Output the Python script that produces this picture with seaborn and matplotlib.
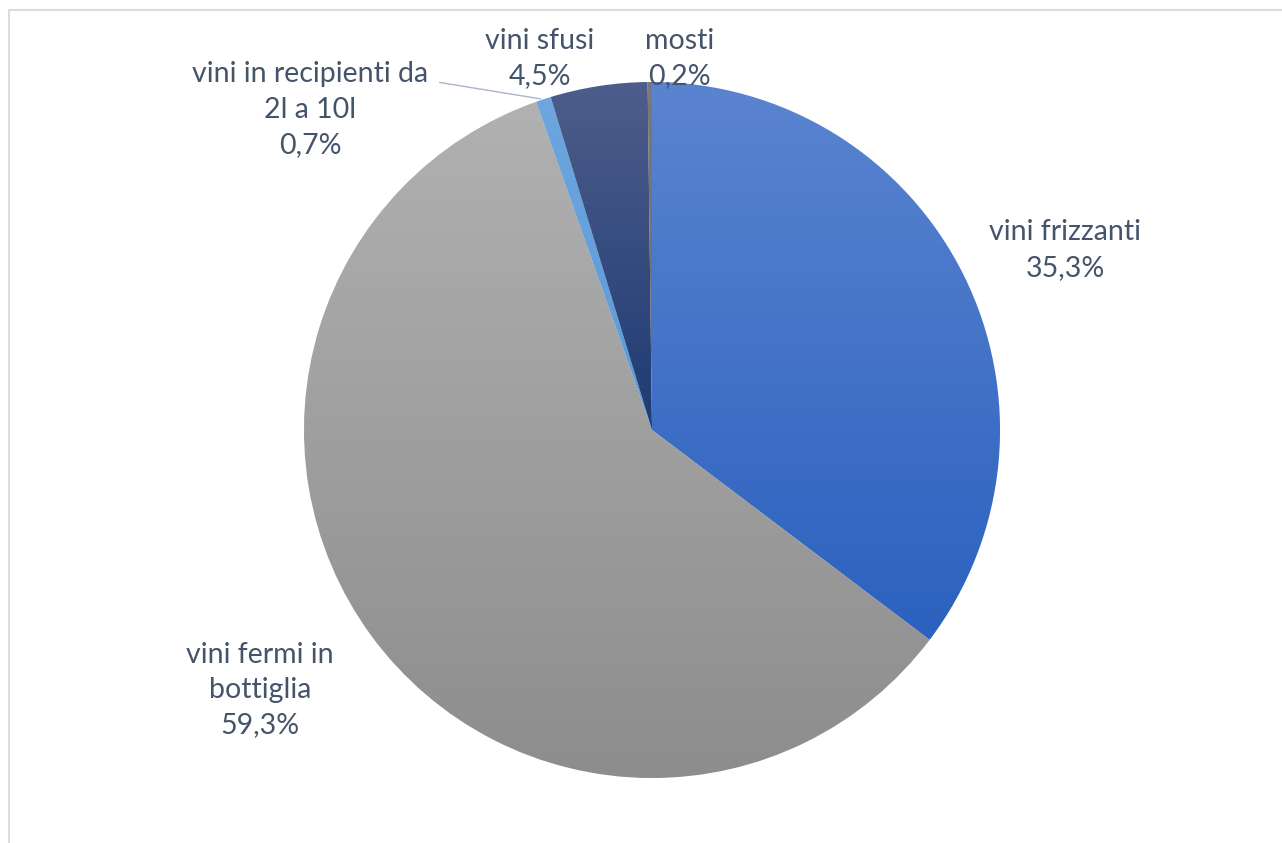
import numpy as np
import matplotlib
matplotlib.use("Agg")
import matplotlib.pyplot as plt
import seaborn as sns
from matplotlib.colors import LinearSegmentedColormap
from matplotlib.lines import Line2D

# dati
categorie = ["vini frizzanti", "vini fermi in\nbottiglia", "vini in recipienti da\n2l a 10l", "vini sfusi", "mosti"]
quote = [35.3, 59.3, 0.7, 4.5, 0.2]

# colori (sopra -> sotto) per il gradiente di ogni fetta
col_top = ["#5b84d0", "#b1b1b1", "#6ea6de", "#4e5d8b", "#7a7a7a"]
col_bot = ["#2b61bf", "#8d8d8d", "#5b9ad8", "#1e3b73", "#6a6a6a"]

# posizione etichette (coordinate dati, raggio = 1)
lab_x = [1.187, -1.126, -0.983, -0.322, 0.080]
lab_y = [0.517, -0.747, 0.920, 1.068, 1.068]

sns.set_theme(style="white")
plt.rcParams["font.family"] = ["Lato", "DejaVu Sans"]

W, H = 1282, 843
cx, cy, R = 652, 430, 348
fig = plt.figure(figsize=(W / 100, H / 100), dpi=100)
ax = fig.add_axes([0, 0, 1, 1])
ax.patch.set_visible(False)

wedges, _ = ax.pie(quote, startangle=90, counterclock=False, radius=1,
                   colors=col_top, wedgeprops=dict(linewidth=0.6, edgecolor="white"))

# gradiente verticale dentro ogni fetta
grad = np.linspace(0, 1, 256).reshape(-1, 1)
for w, c1, c2 in zip(wedges, col_top, col_bot):
    bb = w.get_path().get_extents()
    cmap = LinearSegmentedColormap.from_list("g", [c1, c2])
    im = ax.imshow(grad, extent=(bb.x0, bb.x1, bb.y0, bb.y1), origin="upper",
                   cmap=cmap, aspect="auto", zorder=w.get_zorder() + 0.1)
    im.set_clip_path(w)

txt_col = "#44546a"
for i, (lab, q) in enumerate(zip(categorie, quote)):
    s = lab + "\n" + f"{q:.1f}".replace(".", ",") + "%"
    if i == 2:
        # linea guida verso la fetta piccola
        mid = 90 - (sum(quote[:i]) + q / 2) * 3.6
        px, py = np.cos(np.radians(mid)), np.sin(np.radians(mid))
        ax.annotate("", xy=(px, py), xytext=(-0.618, 1.0),
                    arrowprops=dict(arrowstyle="-", color="#a9b6c9", lw=1))
    ax.text(lab_x[i], lab_y[i], s, ha="center", va="center", fontsize=20.5,
            color=txt_col, linespacing=1.45)

ax.set_xlim(-cx / R, (W - cx) / R)
ax.set_ylim(-(H - cy) / R, cy / R)
ax.axis("off")

# cornice del grafico (lato sinistro e superiore)
x0, y0 = 8.5 / W, 1 - 9.5 / H
fig.lines.append(Line2D([x0, x0, 1.0], [0.0, y0, y0], transform=fig.transFigure,
                        color="#d9dce3", lw=1.5))

fig.savefig("out.png", dpi=100)
